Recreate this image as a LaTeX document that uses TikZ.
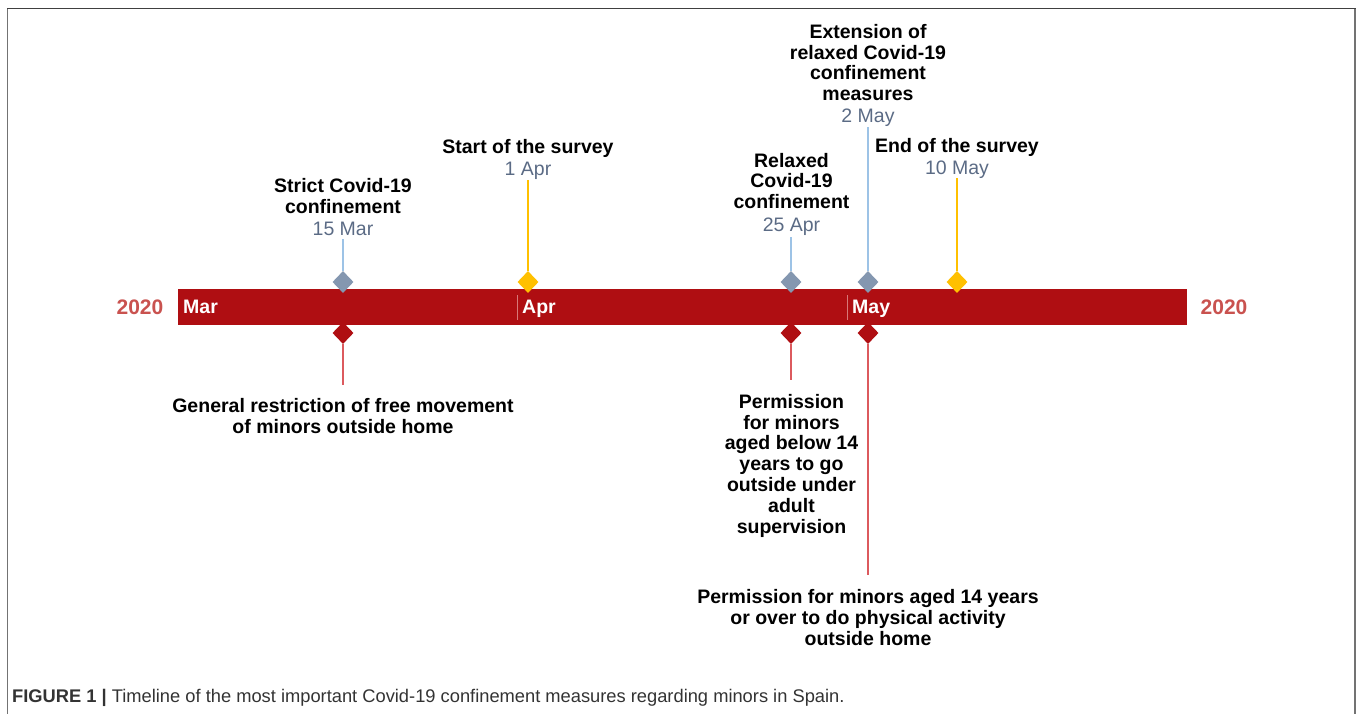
\documentclass[tikz,border=0pt]{standalone}
\usepackage{fontspec}
\setmainfont{Liberation Sans}
\usetikzlibrary{shapes.geometric}
\definecolor{barred}{HTML}{AF0E12}
\definecolor{yearred}{HTML}{C9524F}
\definecolor{datecol}{HTML}{5B6B85}
\definecolor{stemblue}{HTML}{9DC3E6}
\definecolor{diagray}{HTML}{8497B0}
\definecolor{survey}{HTML}{FFC000}
\definecolor{stemred}{HTML}{DC5A5E}
\definecolor{tickcol}{HTML}{D87878}
\definecolor{capcol}{HTML}{333333}
\tikzset{
  lbl/.style={font=\fontsize{19.5}{20.8}\selectfont\bfseries, align=center, inner sep=0pt, text=black},
  dia/.style={diamond, minimum width=21pt, minimum height=22pt, inner sep=0pt},
  month/.style={font=\fontsize{19.5}{20}\selectfont\bfseries, text=white, inner sep=0pt, anchor=base west},
  year/.style={font=\fontsize{21}{22}\selectfont\bfseries, text=yearred, inner sep=0pt, anchor=base},
  stem/.style={line width=1.5pt},
}
\newcommand{\dt}[1]{\\[1.5pt]{\mdseries\color{datecol}#1}}
\begin{document}
\begin{tikzpicture}[x=1pt,y=-1pt]
\useasboundingbox (0,0) rectangle (1357,714);
% frame
\draw[line width=1.5pt, color=black!55] (7.5,714) -- (7.5,8.5);
\draw[line width=1.5pt, color=black!55] (1355,714) -- (1355,8.5);
\draw[line width=1.2pt, color=black!75] (7,8.3) -- (1355.7,8.3);
% bar
\node[fill=barred, minimum width=1009pt, minimum height=36pt, inner sep=0pt] (bar) at (682.5,307) {};
\draw[tickcol, line width=1pt] (517,295) coordinate (aprt1) -- (517,320) coordinate (aprt2);
\draw[tickcol, line width=1pt] (847,295) coordinate (mayt1) -- (847,320) coordinate (mayt2);
\node[month] (mar) at (183,313) {Mar};
\node[month] (apr) at (522,313) {Apr};
\node[month] (may) at (852,313) {May};
\node[year] (yl) at (140,314) {2020};
\node[year] (yr) at (1224,314) {2020};
% upper diamonds
\node[dia, fill=diagray] (u1) at (343,282) {};
\node[dia, fill=survey] (u2) at (528,282) {};
\node[dia, fill=diagray] (u3) at (791,282) {};
\node[dia, fill=diagray] (u4) at (868,282) {};
\node[dia, fill=survey] (u5) at (957,282) {};
% lower diamonds
\node[dia, fill=barred] (l1) at (343,333) {};
\node[dia, fill=barred] (l3) at (791,333) {};
\node[dia, fill=barred] (l4) at (868,333) {};
% upper labels (anchor = baseline of last line)
\node[lbl, anchor=base] (t1) at (343,236) {Strict Covid-19\\confinement\dt{15 Mar}};
\node[lbl, anchor=base] (t2) at (528,176) {Start of the survey\dt{1 Apr}};
\node[lbl, anchor=base] (t3) at (791.5,231) {Relaxed\\Covid-19\\confinement\dt{25 Apr}};
\node[lbl, anchor=base] (t4) at (868,123) {Extension of\\relaxed Covid-19\\confinement\\measures\dt{2 May}};
\node[lbl, anchor=base] (t5) at (957,175) {End of the survey\dt{10 May}};
% lower labels (anchor = baseline of last line)
\node[lbl, anchor=base] (b1) at (343,433) {General restriction of free movement\\of minors outside home};
\node[lbl, anchor=base] (b3) at (791.5,533) {Permission\\for minors\\aged below 14\\years to go\\outside under\\adult\\supervision};
\node[lbl, anchor=base] (b4) at (868,645) {Permission for minors aged 14 years\\or over to do physical activity\\outside home};
% stems
\coordinate (s1) at (343,238.5);
\coordinate (s2) at (528,180);
\coordinate (s3) at (791,237);
\coordinate (s4) at (868,127);
\coordinate (s5) at (957,178);
\coordinate (e1) at (343,385);
\coordinate (e3) at (791,380);
\coordinate (e4) at (868,575);
\draw[stem, stemblue] (u1.north) -- (s1);
\draw[stem, survey] (u2.north) -- (s2);
\draw[stem, stemblue] (u3.north) -- (s3);
\draw[stem, stemblue] (u4.north) -- (s4);
\draw[stem, survey] (u5.north) -- (s5);
\draw[stem, stemred] (l1.south) -- (e1);
\draw[stem, stemred] (l3.south) -- (e3);
\draw[stem, stemred] (l4.south) -- (e4);
% caption
\node[anchor=base west, inner sep=0pt, text=capcol, font=\fontsize{18.3}{20}\selectfont] (cap) at (12,702)
  {\textbf{FIGURE 1 |} Timeline of the most important Covid-19 confinement measures regarding minors in Spain.};
\end{tikzpicture}
\end{document}
